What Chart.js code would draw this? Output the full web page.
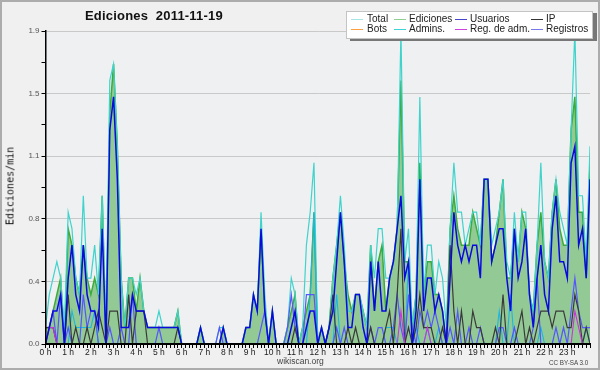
<!DOCTYPE html>
<html><head><meta charset="utf-8">
<script src="https://cdn.jsdelivr.net/npm/chart.js@4.4.0/dist/chart.umd.min.js"></script>
<style>
html,body{margin:0;padding:0;background:#f0f0f0;}
#wrap{position:relative;width:600px;height:370px;overflow:hidden;background:#f0f0f0;}
#c{position:absolute;left:0;top:0;}
#frame{position:absolute;left:0;top:0;width:600px;height:370px;box-sizing:border-box;border:2px solid #acacac;pointer-events:none;}
.t{position:absolute;font-family:"Liberation Sans",Arial,sans-serif;white-space:nowrap;}
#title{left:85px;top:8px;font-size:13px;font-weight:bold;color:#111;letter-spacing:0.2px;}
#ytitle{position:absolute;left:10px;top:186px;transform:translate(-50%,-50%) rotate(-90deg);font-family:"DejaVu Sans Mono",monospace;font-size:10px;color:#111;white-space:nowrap;}
#legend{position:absolute;left:346px;top:11px;width:245px;height:26px;background:#fff;border:1px solid #c4c4c4;box-shadow:4px 2px 0 #777;}
#legend .ln{position:absolute;width:12px;height:1px;}
#legend .lt{position:absolute;font-family:"Liberation Sans",Arial,sans-serif;font-size:10px;line-height:10px;color:#222;white-space:nowrap;}
#site{left:277px;top:356px;font-size:8.5px;color:#444;}
#lic{left:549px;top:359px;font-size:6.3px;color:#444;}
</style></head>
<body>
<div id="wrap">
<canvas id="c" width="600" height="370"></canvas>
<div class="t" id="title">Ediciones&nbsp;&nbsp;2011-11-19</div>
<div id="ytitle">Ediciones/min</div>
<div id="legend"></div>
<div class="t" id="site">wikiscan.org</div>
<div class="t" id="lic">CC BY-SA 3.0</div>
<div id="frame"></div>
</div>
<script>
const hourLabels = ['0 h','1 h','2 h','3 h','4 h','5 h','6 h','7 h','8 h','9 h','10 h','11 h','12 h','13 h','14 h','15 h','16 h','17 h','18 h','19 h','20 h','21 h','22 h','23 h'];
const yTickLabels = ['0.0','0.4','0.8','1.1','1.5','1.9'];
const yMax = 1.9;

const total = [
0.1,0.3,0.4,0.5,0.4,0.1, 0.8,0.7,0.4,0.3,0.9,0.4, 0.4,0.6,0.3,0.9,0.1,1.6, 1.7,1.2,0.4,0.1,0.4,0.4,
0.3,0.4,0.2,0.1,0.1,0.1, 0.2,0.1,0.1,0.1,0.1,0.2, 0,0,0,0,0,0.1, 0,0,0,0,0.1,0.1,
0,0,0,0,0,0.1, 0.1,0.3,0.2,0.8,0.3,0, 0.2,0,0,0,0.1,0.4, 0.3,0,0.1,0.6,0.8,1.1,
0,0.1,0,0.1,0.4,0.6, 0.9,0.6,0.2,0.2,0.3,0.3, 0.2,0.1,0.6,0.4,0.7,0.7, 0.4,0.4,0.5,0.7,1.9,0.5,
0.7,0.1,0.3,1.5,0.3,0.6, 0.6,0.3,0.5,0.4,0.1,0.7, 1.1,0.8,0.8,0.6,0.7,0.8, 0.8,0.6,1.0,1.0,0.6,0.7,
0.8,1.0,0.5,0.4,0.8,0.5, 0.8,0.8,0.3,0.2,0.6,1.1, 0.5,0.4,0.8,1.0,0.8,0.7, 0.6,1.3,1.9,0.9,0.9,0.5,
1.2];
const ediciones = [
0.1,0.1,0.2,0.3,0.4,0, 0.7,0.6,0.4,0.3,0.6,0.4, 0.3,0.4,0.3,0.9,0,1.4, 1.7,1.2,0.4,0.1,0.4,0.4,
0.2,0.4,0.2,0.1,0.1,0.1, 0.1,0.1,0.1,0.1,0.1,0.2, 0,0,0,0,0,0.1, 0,0,0,0,0,0.1,
0,0,0,0,0,0.1, 0.1,0.3,0.2,0.7,0.2,0, 0.2,0,0,0,0.1,0.2, 0.3,0,0.1,0.2,0.3,0.8,
0,0.1,0,0.1,0.4,0.6, 0.8,0.5,0.3,0.2,0.3,0.3, 0.2,0.1,0.6,0.2,0.5,0.6, 0.2,0.4,0.5,0.7,1.6,0.5,
0.5,0.1,0.3,1.1,0.3,0.5, 0.5,0.3,0.3,0.2,0,0.7, 0.9,0.7,0.6,0.6,0.6,0.8, 0.7,0.6,1.0,1.0,0.5,0.6,
0.8,1.0,0.4,0.4,0.7,0.5, 0.8,0.7,0.3,0.2,0.6,0.8, 0.5,0.4,0.8,1.0,0.7,0.6, 0.6,1.3,1.5,0.8,0.8,0.4,
1.1];
const usuarios = [
0,0.1,0.2,0.2,0.3,0, 0.4,0.6,0.3,0.2,0.6,0.3, 0.2,0.2,0.1,0.7,0,1.3, 1.5,1.0,0.1,0.1,0.1,0.3,
0.2,0.2,0.2,0.1,0.1,0.1, 0.1,0.1,0.1,0.1,0.1,0.1, 0,0,0,0,0,0.1, 0,0,0,0,0,0.1,
0,0,0,0,0,0.1, 0.1,0.3,0.2,0.7,0.2,0, 0.2,0,0,0,0,0.1, 0.2,0,0,0.1,0.2,0.2,
0,0.1,0,0.1,0.2,0.5, 0.8,0.5,0.1,0.1,0.3,0.3, 0.1,0,0.5,0.2,0.5,0.2, 0.2,0.4,0.5,0.7,0.9,0.4,
0.5,0,0.2,1.0,0.2,0.4, 0.4,0.2,0.3,0.2,0,0.4, 0.8,0.6,0.5,0.6,0.5,0.6, 0.6,0.4,1.0,1.0,0.5,0.6,
0.7,0.7,0.4,0.2,0.7,0.4, 0.5,0.7,0.3,0.1,0.4,0.6, 0.3,0.2,0.7,0.9,0.5,0.5, 0.4,1.1,1.2,0.6,0.7,0.4,
1.0];
const ip = [
0.1,0.1,0.1,0,0,0, 0.3,0,0.1,0,0,0.1, 0,0.1,0.2,0.1,0,0.2, 0.2,0.2,0,0,0.3,0,
0.2,0.2,0.2,0,0,0, 0,0,0,0,0,0.1, 0,0,0,0,0,0, 0,0,0,0,0,0,
0,0,0,0,0,0, 0,0,0,0,0,0, 0,0,0,0,0,0, 0.1,0,0,0,0,0,
0,0,0,0.1,0.3,0, 0,0,0.1,0,0.1,0, 0,0,0.1,0,0,0, 0.1,0.2,0,0.3,0.7,0,
0.1,0,0.1,0.3,0.1,0.1, 0.1,0,0,0.1,0,0.6, 0.2,0,0.2,0,0,0.2, 0.1,0.1,0,0,0,0.1,
0,0.3,0,0,0,0.1, 0.2,0,0.1,0,0.1,0.2, 0.2,0.2,0.1,0.2,0.2,0.2, 0.1,0.1,0.3,0.2,0,0.1,
0];
const bots = [
0,0,0,0,0,0, 0,0,0,0,0,0, 0,0,0,0,0,0, 0,0,0,0,0,0,
0,0,0,0,0,0, 0,0,0,0,0,0, 0,0,0,0,0,0, 0,0,0,0,0,0,
0,0,0,0,0,0, 0,0,0,0,0,0, 0,0,0,0,0,0, 0,0,0,0,0,0,
0,0,0,0,0,0, 0,0,0,0,0,0, 0,0,0,0,0,0, 0,0,0,0,0,0,
0,0,0,0,0,0, 0,0,0,0,0,0, 0,0,0,0,0,0, 0,0,0,0,0,0,
0,0,0,0,0,0, 0,0,0,0,0,0, 0,0,0,0,0,0, 0,0,0,0,0,0,
0];
const admins = [
0,0,0,0,0,0, 0,0.2,0.1,0.1,0.1,0.1, 0.1,0.2,0,0,0,0, 0,0,0,0,0,0,
0,0,0,0,0,0, 0,0,0,0,0,0, 0,0,0,0,0,0, 0,0,0,0,0,0,
0,0,0,0,0,0, 0,0,0,0,0,0, 0,0,0,0,0,0, 0,0,0,0,0.3,0.8,
0,0,0,0,0,0.3, 0,0,0,0,0,0, 0,0,0,0,0,0, 0.1,0.1,0.1,0,0,0,
0.5,0,0.1,0,0,0.1, 0,0,0.1,0,0,0, 0,0,0,0,0,0, 0,0,0,0,0,0,
0.2,0,0,0.3,0,0, 0,0,0,0,0,0.1, 0,0,0,0,0,0, 0,0,0,0,0,0.1,
0];
const regAdm = [
0,0.1,0.1,0,0,0, 0,0,0,0,0,0, 0,0,0,0,0,0, 0,0,0,0,0,0,
0,0,0,0,0,0, 0,0,0,0,0,0, 0,0,0,0,0,0, 0,0,0,0,0,0,
0,0,0,0,0,0, 0,0,0,0,0,0, 0,0,0,0,0,0, 0,0,0,0,0,0,
0,0,0,0,0,0, 0,0,0,0,0,0, 0,0,0,0,0,0, 0,0,0,0,0.2,0,
0,0,0,0,0,0.1, 0,0,0,0,0,0, 0,0,0,0,0,0, 0,0,0,0,0,0,
0,0,0,0,0,0, 0,0,0,0,0,0, 0,0,0,0,0,0, 0,0,0.2,0.1,0,0,
0];
const registros = [
0,0.1,0.2,0,0.3,0, 0.1,0,0,0,0.3,0.1, 0.2,0.2,0,0,0,0.1, 0,0,0.1,0,0,0.3,
0,0,0,0,0,0, 0.1,0,0,0,0,0, 0,0,0,0,0,0, 0,0,0,0,0.1,0,
0,0,0,0,0,0, 0,0,0,0.1,0.2,0, 0,0,0,0,0.1,0.3, 0.1,0,0,0.3,0.3,0.3,
0,0,0,0,0,0.1, 0,0.1,0,0,0,0, 0,0,0.1,0,0.1,0.1, 0,0,0.1,0.3,0.1,0,
0.3,0.1,0,0.2,0.1,0.2, 0.1,0.2,0.1,0,0,0.1, 0,0.2,0,0,0.1,0, 0,0.1,0,0,0,0,
0.1,0.1,0,0,0.1,0, 0,0,0,0.1,0.4,0, 0,0,0,0.1,0,0.1, 0,0.2,0.4,0.2,0.1,0.1,
0.1];

const series = [
  {label:'Total', data: total, color:'#3fd3cb', width:1.2, order:9},
  {label:'Ediciones', data: ediciones, color:'#3cab3c', width:1.5, order:10, fill:'#93c994'},
  {label:'Usuarios', data: usuarios, color:'#0a0ade', width:1.5, order:1},
  {label:'IP', data: ip, color:'#3a3a3a', width:1.2, order:4},
  {label:'Bots', data: bots, color:'#ff9a22', width:1, order:2},
  {label:'Admins.', data: admins, color:'#1ab8e0', width:1.1, order:6},
  {label:'Reg. de adm.', data: regAdm, color:'#cc33dd', width:1.1, order:3},
  {label:'Registros', data: registros, color:'#5656ff', width:1.2, order:5}
];
const legendColors = {'Total':'#a6e6e6','Ediciones':'#8fd08f','Usuarios':'#4444cc','IP':'#333333','Bots':'#ffa040','Admins.':'#40d0d8','Reg. de adm.':'#d040e0','Registros':'#7777ee'};

// HTML legend
const leg = document.getElementById('legend');
const colX = [[4,20],[47,62],[108,123],[184,199]];
const rowY = [7,17];
series.forEach((s, k) => {
  const col = k % 4, row = Math.floor(k / 4);
  const ln = document.createElement('div'); ln.className='ln';
  ln.style.left = colX[col][0]+'px'; ln.style.top = rowY[row]+'px'; ln.style.background = legendColors[s.label];
  const tx = document.createElement('div'); tx.className='lt';
  tx.style.left = colX[col][1]+'px'; tx.style.top = (rowY[row]-5)+'px'; tx.textContent = s.label;
  leg.appendChild(ln); leg.appendChild(tx);
});

const plotBg = {id:'plotBg', beforeDraw(chart){const {ctx, chartArea:a} = chart; ctx.save(); ctx.fillStyle='#eef0f2'; ctx.fillRect(a.left, a.top, a.right-a.left, a.bottom-a.top); ctx.restore();}};

const datasets = series.map(s => ({
  label: s.label,
  data: s.data.map((v, i) => ({x: i / 6, y: v})),
  borderColor: s.color,
  borderWidth: s.width,
  backgroundColor: s.fill || s.color,
  fill: s.fill ? 'origin' : false,
  order: s.order,
  pointRadius: 0,
  tension: 0
}));

new Chart(document.getElementById('c'), {
  type: 'line',
  data: {datasets},
  plugins: [plotBg],
  options: {
    responsive: false, animation: false, devicePixelRatio: 1,
    layout: {padding: {left: 0, right: 10, top: 31, bottom: 0}},
    plugins: {legend: {display: false}, tooltip: {enabled: false}, title: {display: false}},
    scales: {
      x: {
        type: 'linear', min: 0, max: 24,
        afterBuildTicks: (s) => { const t = []; for (let k = 0; k <= 144; k++) t.push({value: k / 6}); s.ticks = t; },
        afterFit: (s) => { s.height = 26; },
        ticks: {autoSkip: false, maxRotation: 0, minRotation: 0, padding: 0, color: '#222',
          font: {family: 'Liberation Sans', size: 8.5},
          callback: (v, idx) => (idx % 6 === 0 && idx / 6 < hourLabels.length) ? hourLabels[idx / 6] : ''},
        grid: {drawOnChartArea: false, drawTicks: true, tickLength: 4, tickColor: '#000', tickWidth: 1, z: 1},
        border: {display: true, color: '#000', width: 2, z: 1}
      },
      y: {
        min: 0, max: yMax,
        afterBuildTicks: (s) => { const t = []; for (let k = 0; k <= 10; k++) t.push({value: yMax * k / 10}); s.ticks = t; },
        afterFit: (s) => { s.width = 45.5; },
        ticks: {autoSkip: false, padding: 2, color: '#555', font: {family: 'Liberation Sans', size: 8},
          callback: (v, idx) => idx % 2 === 0 ? yTickLabels[idx / 2] : ''},
        grid: {color: (c) => (c.index % 2 === 0 ? '#c9c9c9' : 'rgba(0,0,0,0)'), lineWidth: 1, drawTicks: true, tickLength: 4, tickColor: '#000', tickWidth: 1},
        border: {display: true, color: '#000', width: 1.5, z: 1}
      }
    }
  }
});
</script>
</body></html>
